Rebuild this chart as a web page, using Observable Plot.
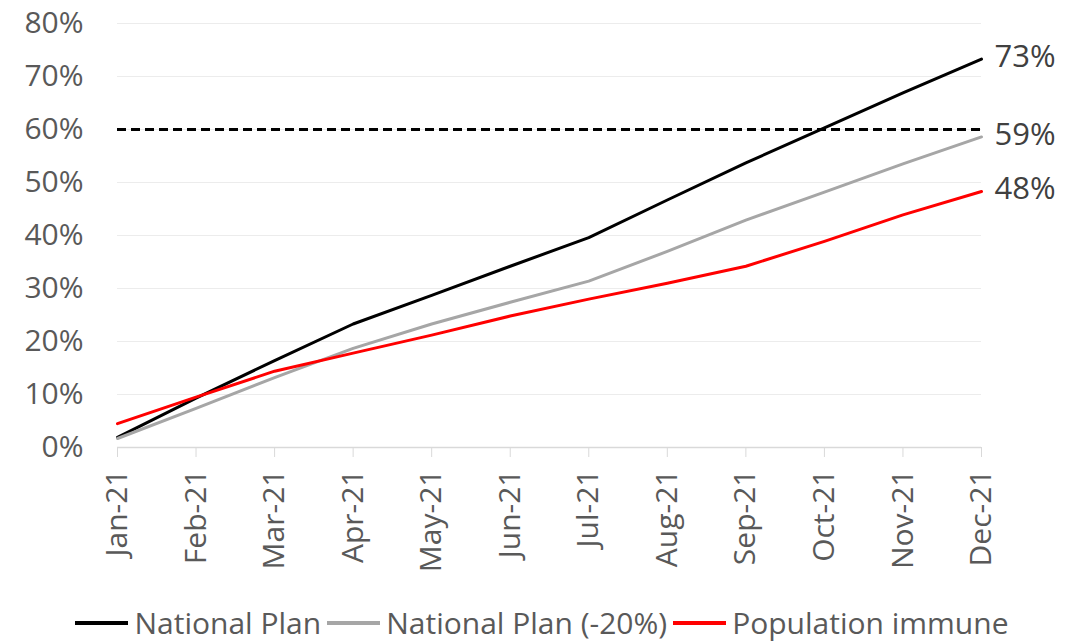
<!DOCTYPE html>
<html>
<head>
<meta charset="utf-8">
<script src="https://cdn.jsdelivr.net/npm/d3@7"></script>
<script src="https://cdn.jsdelivr.net/npm/@observablehq/plot@0.6"></script>
<style>
  html, body { margin: 0; padding: 0; background: #fff; }
  body { width: 1084px; height: 641px; overflow: hidden; font-family: "Open Sans", sans-serif; }
  #chart svg { display: block; }
  #legend { display: flex; justify-content: center; align-items: center; margin-top: 12px; height: 36px; line-height: 36px; font-size: 30px; color: #595959; }
  .item { display: flex; align-items: center; margin: 0 3px; }
  .sw { width: 53px; height: 4px; margin-right: 6px; }
</style>
</head>
<body>
<div id="chart"></div>
<div id="legend"></div>
<script>
const months = ["Jan-21","Feb-21","Mar-21","Apr-21","May-21","Jun-21","Jul-21","Aug-21","Sep-21","Oct-21","Nov-21","Dec-21"];
const nationalPlan = [0.019,0.093,0.164,0.233,0.287,0.342,0.396,0.467,0.537,0.603,0.669,0.733];
const nationalPlan20 = [0.017,0.074,0.132,0.187,0.233,0.274,0.314,0.370,0.429,0.482,0.535,0.586];
const populationImmune = [0.045,0.095,0.144,0.178,0.212,0.248,0.280,0.310,0.342,0.389,0.439,0.483];
const threshold = 0.6;
const seriesNames = ["National Plan","National Plan (-20%)","Population immune"];
const seriesColors = ["#000000","#a6a6a6","#ff0000"];
const yTicks = [0,0.1,0.2,0.3,0.4,0.5,0.6,0.7,0.8];

const seriesValues = [nationalPlan, nationalPlan20, populationImmune];
const data = [];
seriesNames.forEach((s, i) => months.forEach((m, j) => data.push({series: s, month: m, value: seriesValues[i][j]})));
const lastPoints = seriesNames.map((s, i) => ({series: s, month: months[months.length-1], value: seriesValues[i][months.length-1]}));

const chart = Plot.plot({
  width: 1084,
  height: 593,
  marginTop: 23,
  marginBottom: 146,
  marginLeft: 117,
  marginRight: 103,
  style: {fontFamily: "'Open Sans', sans-serif", background: "#fff"},
  x: {type: "point", domain: months, padding: 0, round: false},
  y: {domain: [0, 0.8]},
  color: {domain: seriesNames, range: seriesColors},
  marks: [
    Plot.gridY(yTicks, {stroke: "#ececec", strokeOpacity: 1, strokeWidth: 1}),
    Plot.axisY(yTicks, {tickFormat: d3.format(".0%"), tickSize: 0, tickPadding: 34, fontSize: 30, color: "#595959", label: null}),
    Plot.ruleY([0], {stroke: "#d9d9d9", strokeWidth: 1.5}),
    Plot.axisX({tickRotate: -90, tickSize: 10, tickPadding: 12, stroke: "#d9d9d9", fontSize: 30, color: "#595959", label: null}),
    Plot.ruleY([threshold], {stroke: "#000", strokeWidth: 3, strokeDasharray: "9,5"}),
    Plot.line(data, {x: "month", y: "value", stroke: "series", strokeWidth: 3}),
    Plot.text(lastPoints, {x: "month", y: "value", text: d => d3.format(".0%")(d.value), textAnchor: "start", dx: 13, dy: -2, fontSize: 31, fill: "#404040"})
  ]
});
document.getElementById("chart").appendChild(chart);

const legend = document.getElementById("legend");
seriesNames.forEach((s, i) => {
  const it = document.createElement("div");
  it.className = "item";
  const sw = document.createElement("div");
  sw.className = "sw";
  sw.style.background = seriesColors[i];
  const t = document.createElement("span");
  t.textContent = s;
  it.appendChild(sw); it.appendChild(t);
  legend.appendChild(it);
});
</script>
</body>
</html>
